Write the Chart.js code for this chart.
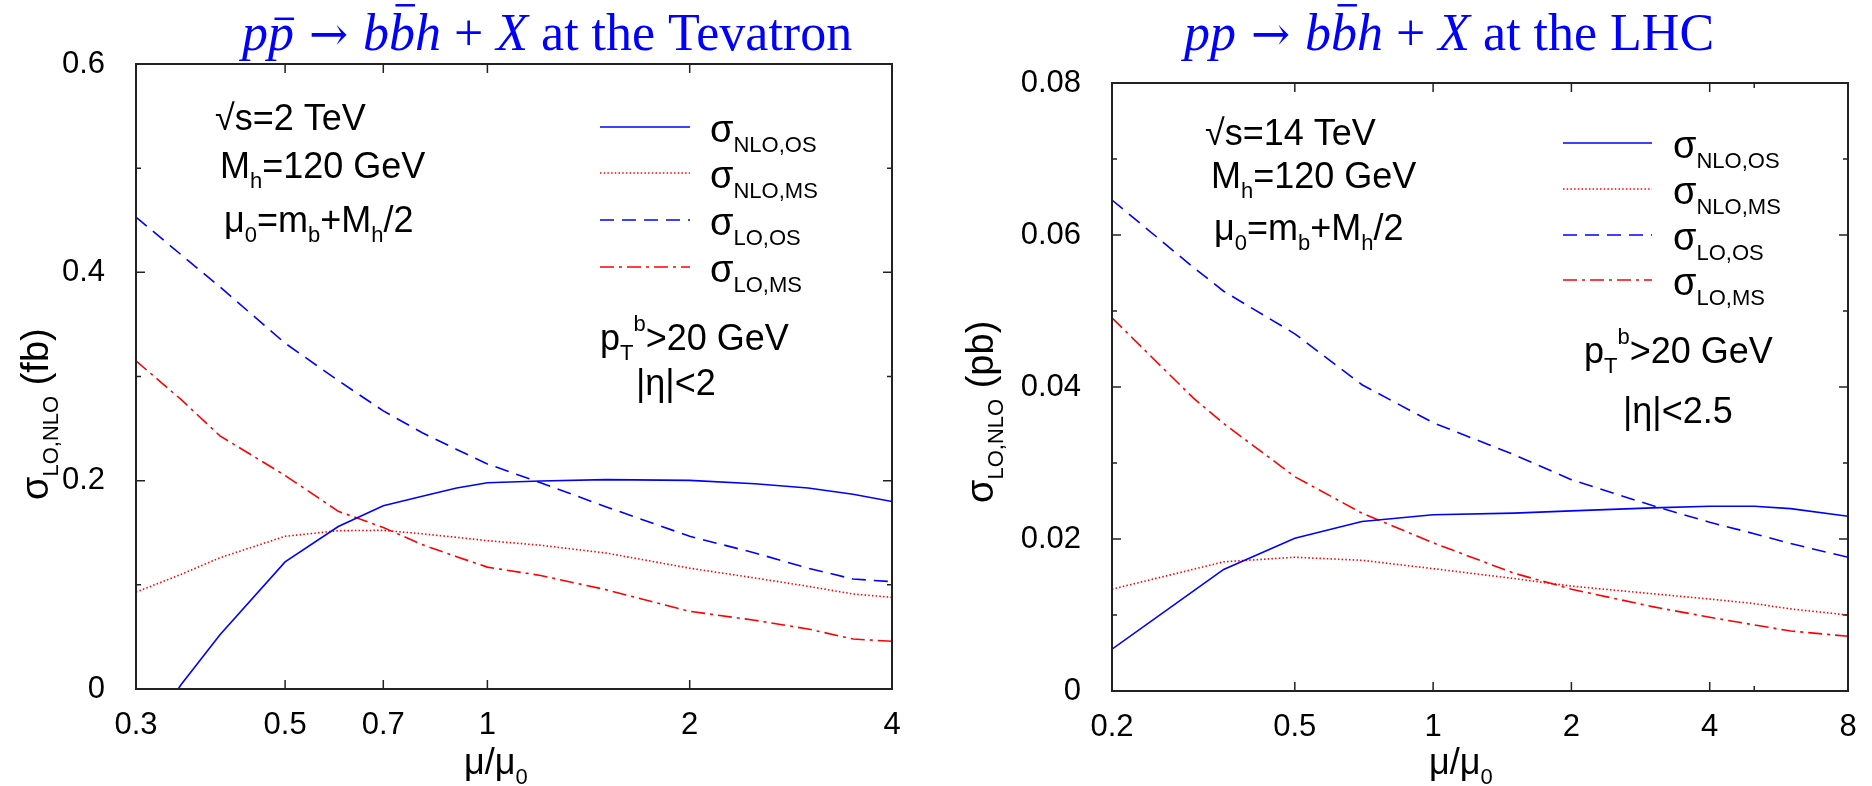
<!DOCTYPE html>
<html>
<head>
<meta charset="utf-8">
<script src="https://cdn.jsdelivr.net/npm/chart.js@4.4.1/dist/chart.umd.min.js"></script>
<style>
  body { margin: 0; background: #fff; }
  #wrap { position: relative; width: 1872px; height: 786px; }
  canvas { position: absolute; top: 0; }
</style>
</head>
<body>
<div id="wrap">
  <canvas id="tev" width="936" height="786" style="left:0"></canvas>
  <canvas id="lhc" width="936" height="786" style="left:936px"></canvas>
</div>
<script>
const BLUE = 'rgb(0, 0, 255)';
const RED = 'rgb(255, 0, 0)';
const SANS = '"Liberation Sans", Arial, sans-serif';
const SERIF = '"Liberation Serif", "Times New Roman", serif';

// Tevatron panel (sigma in fb)
const TEV_MU = [0.3, 0.35, 0.4, 0.5, 0.6, 0.7, 0.8, 0.9, 1.0, 1.2, 1.5, 2, 2.5, 3, 3.5, 4];
const TEV_NLO_OS = [-0.06, 0.004, 0.052, 0.122, 0.156, 0.176, 0.185, 0.193, 0.198, 0.1997, 0.201, 0.2003, 0.197, 0.193, 0.187, 0.180];
const TEV_NLO_MS = [0.093, 0.110, 0.126, 0.1466, 0.152, 0.1523, 0.149, 0.1456, 0.1424, 0.138, 0.1306, 0.116, 0.1066, 0.0986, 0.0912, 0.088];
const TEV_LO_OS = [0.453, 0.417, 0.386, 0.332, 0.296, 0.267, 0.246, 0.230, 0.216, 0.198, 0.175, 0.1466, 0.1306, 0.116, 0.1056, 0.103];
const TEV_LO_MS = [0.315, 0.278, 0.243, 0.205, 0.1706, 0.155, 0.1386, 0.127, 0.117, 0.109, 0.0954, 0.0746, 0.066, 0.0576, 0.048, 0.0458];
const TEV_X_TICKS = [0.3, 0.5, 0.7, 1, 2, 4];
const TEV_Y_TICKS = [0, 0.2, 0.4, 0.6];
const TEV_Y_MINOR = [0.1, 0.3, 0.5];

// LHC panel (sigma in pb)
const LHC_MU = [0.2, 0.3, 0.35, 0.5, 0.7, 1, 1.5, 2, 3, 4, 5, 6, 8];
const LHC_NLO_OS = [0.0055, 0.0131, 0.0160, 0.0201, 0.0223, 0.0232, 0.0234, 0.0237, 0.0241, 0.0243, 0.0243, 0.0240, 0.0230];
const LHC_NLO_MS = [0.0134, 0.0160, 0.0170, 0.0176, 0.0172, 0.0161, 0.0148, 0.0138, 0.0128, 0.0121, 0.0115, 0.0108, 0.0100];
const LHC_LO_OS = [0.0646, 0.0558, 0.0526, 0.0470, 0.0403, 0.0353, 0.0311, 0.0278, 0.0244, 0.0222, 0.0207, 0.0194, 0.0176];
const LHC_LO_MS = [0.0491, 0.0386, 0.0352, 0.0282, 0.0234, 0.0195, 0.0155, 0.0134, 0.0111, 0.0097, 0.0087, 0.0079, 0.0072];
const LHC_X_TICKS = [0.2, 0.5, 1, 2, 4, 8];
const LHC_X_MINOR = [5];
const LHC_Y_TICKS = [0, 0.02, 0.04, 0.06, 0.08];
const LHC_Y_MINOR = [0.01, 0.03, 0.05, 0.07];

const SERIES_LABELS = ['NLO,OS', 'NLO,MS', 'LO,OS', 'LO,MS'];

// draws a run of text pieces: ['txt', kind], kind = '' | 'sub' | 'sup' | 'big'
function drawRich(ctx, x, y, parts, size) {
  for (const [txt, kind] of parts) {
    let s = size, dy = 0;
    if (kind === 'sub') { s = 22; dy = 10; }
    if (kind === 'sup') { s = 22; dy = -19; }
    if (kind === 'big') { s = size + 4; }
    ctx.font = `${s}px ${SANS}`;
    ctx.fillText(txt, x, y + dy);
    x += ctx.measureText(txt).width;
  }
  return x;
}

// title: 'i' italic, 'ib' italic with bar, 'a' arrow, '' roman
function drawTitle(ctx, x, y, parts, size) {
  ctx.fillStyle = BLUE;
  ctx.strokeStyle = BLUE;
  for (const [txt, kind] of parts) {
    if (kind === 'a') ctx.font = `${size * 0.9}px "DejaVu Serif", serif`;
    else ctx.font = (kind ? 'italic ' : '') + `${size}px ${SERIF}`;
    ctx.fillText(txt, x, y);
    let w = ctx.measureText(txt).width;
    if (kind === 'ib') {
      let by = y - size * (txt === 'b' ? 0.86 : 0.6);
      ctx.lineWidth = 2.5;
      ctx.beginPath();
      ctx.moveTo(x + w * 0.25, by);
      ctx.lineTo(x + w * 1.0, by);
      ctx.stroke();
    }
    x += w;
  }
}

const framePlugin = {
  id: 'frame',
  afterDatasetsDraw(chart, args, opts) {
    const {ctx, chartArea: a} = chart;
    const sx = chart.scales.x, sy = chart.scales.y;
    ctx.save();
    ctx.strokeStyle = '#222';
    ctx.lineWidth = 1.5;
    ctx.beginPath();
    const xt = (list, len) => {
      for (const v of list) {
        let px = sx.getPixelForValue(v);
        ctx.moveTo(px, a.bottom); ctx.lineTo(px, a.bottom - len);
        ctx.moveTo(px, a.top); ctx.lineTo(px, a.top + len);
      }
    };
    const yt = (list, len) => {
      for (const v of list) {
        let py = sy.getPixelForValue(v);
        ctx.moveTo(a.left, py); ctx.lineTo(a.left + len, py);
        ctx.moveTo(a.right, py); ctx.lineTo(a.right - len, py);
      }
    };
    xt(opts.xTicks, 9);
    xt(opts.xMinor, 5);
    yt(opts.yTicks, 9);
    yt(opts.yMinor, 5);
    ctx.stroke();
    ctx.lineWidth = 2;
    ctx.strokeRect(a.left, a.top, a.right - a.left, a.bottom - a.top);
    ctx.restore();
  },
  afterDraw(chart, args, opts) {
    const ctx = chart.ctx;
    ctx.save();
    ctx.textBaseline = 'alphabetic';
    ctx.textAlign = 'left';
    drawTitle(ctx, opts.title.x, opts.title.y, opts.title.parts, 52);

    ctx.fillStyle = '#000';
    for (const t of opts.texts) {
      if (t.rot) {
        ctx.save();
        ctx.translate(t.x, t.y);
        ctx.rotate(-Math.PI / 2);
        drawRich(ctx, 0, 0, t.parts, t.size);
        ctx.restore();
      } else {
        drawRich(ctx, t.x, t.y, t.parts, t.size);
      }
    }

    // legend
    const lg = opts.legend;
    chart.data.datasets.forEach((d, i) => {
      let ly = lg.ys[i];
      ctx.strokeStyle = d.borderColor;
      ctx.lineWidth = d.borderWidth;
      ctx.setLineDash(d.borderDash);
      ctx.beginPath();
      ctx.moveTo(lg.x0, ly); ctx.lineTo(lg.x1, ly);
      ctx.stroke();
      ctx.setLineDash([]);
      ctx.fillStyle = '#000';
      drawRich(ctx, lg.tx, ly + 15, [['σ', 'big'], [d.label, 'sub']], 34);
    });
    ctx.restore();
  }
};

function makePanel(canvasId, p) {
  const series = [p.nloOs, p.nloMs, p.loOs, p.loMs];
  const colors = [BLUE, RED, BLUE, RED];
  const dashes = [[], [1.5, 2.2], [14, 8], [14, 5, 3, 5]];
  const datasets = series.map((vals, i) => ({
    label: SERIES_LABELS[i],
    data: p.mu.map((m, k) => ({x: m, y: vals[k]})),
    borderColor: colors[i],
    borderWidth: 1.6,
    borderDash: dashes[i],
    pointRadius: 0,
    tension: 0,
    fill: false
  }));
  const tickFont = {family: SANS, size: 31};

  return new Chart(document.getElementById(canvasId), {
    type: 'line',
    data: {datasets},
    options: {
      responsive: false,
      animation: false,
      events: [],
      layout: {padding: p.pad},
      plugins: {legend: {display: false}, tooltip: {enabled: false}, frame: p},
      scales: {
        x: {
          type: 'logarithmic',
          min: p.xTicks[0],
          max: p.xTicks[p.xTicks.length - 1],
          grid: {display: false},
          border: {display: false},
          afterBuildTicks: (s) => { s.ticks = p.xTicks.map(v => ({value: v})); },
          afterFit: (s) => { s.height = p.xAxisH; },
          ticks: {font: tickFont, color: '#000', padding: 10, maxRotation: 0, autoSkip: false,
                  callback: (v) => String(v)}
        },
        y: {
          type: 'linear',
          min: 0,
          max: p.yTicks[p.yTicks.length - 1],
          grid: {display: false},
          border: {display: false},
          afterBuildTicks: (s) => { s.ticks = p.yTicks.map(v => ({value: v})); },
          afterFit: (s) => { s.width = p.yAxisW; },
          ticks: {font: tickFont, color: '#000', padding: 23, autoSkip: false,
                  callback: (v) => String(v)}
        }
      }
    },
    plugins: [framePlugin]
  });
}

makePanel('tev', {
  mu: TEV_MU, nloOs: TEV_NLO_OS, nloMs: TEV_NLO_MS, loOs: TEV_LO_OS, loMs: TEV_LO_MS,
  xTicks: TEV_X_TICKS, xMinor: [], yTicks: TEV_Y_TICKS, yMinor: TEV_Y_MINOR,
  pad: {top: 64, right: 44, left: 0, bottom: 0},
  xAxisH: 97, yAxisW: 136,
  title: {x: 242, y: 50, parts: [['p', 'i'], ['p', 'ib'], [' \u2192 ', 'a'], ['b', 'i'], ['b', 'ib'], ['h', 'i'], [' + ', ''], ['X', 'i'], [' at the Tevatron', '']]},
  legend: {x0: 600, x1: 690, tx: 710, ys: [127, 173, 220, 267]},
  texts: [
    {x: 215, y: 130, size: 36, parts: [['\u221as=2 TeV', '']]},
    {x: 220, y: 178, size: 36, parts: [['M', ''], ['h', 'sub'], ['=120 GeV', '']]},
    {x: 224, y: 232, size: 36, parts: [['\u03bc', ''], ['0', 'sub'], ['=m', ''], ['b', 'sub'], ['+M', ''], ['h', 'sub'], ['/2', '']]},
    {x: 600, y: 350, size: 36, parts: [['p', ''], ['T', 'sub'], ['b', 'sup'], ['>20 GeV', '']]},
    {x: 636, y: 395, size: 36, parts: [['|\u03b7|<2', '']]},
    {x: 464, y: 774, size: 36, parts: [['\u03bc/\u03bc', ''], ['0', 'sub']]},
    {x: 48, y: 500, size: 34, rot: true, parts: [['\u03c3', 'big'], ['LO,NLO', 'sub'], [' (fb)', 'big']]}
  ]
});

makePanel('lhc', {
  mu: LHC_MU, nloOs: LHC_NLO_OS, nloMs: LHC_NLO_MS, loOs: LHC_LO_OS, loMs: LHC_LO_MS,
  xTicks: LHC_X_TICKS, xMinor: LHC_X_MINOR, yTicks: LHC_Y_TICKS, yMinor: LHC_Y_MINOR,
  pad: {top: 83, right: 24, left: 0, bottom: 0},
  xAxisH: 95, yAxisW: 176,
  title: {x: 248, y: 50, parts: [['pp', 'i'], [' \u2192 ', 'a'], ['b', 'i'], ['b', 'ib'], ['h', 'i'], [' + ', ''], ['X', 'i'], [' at the LHC', '']]},
  legend: {x0: 627, x1: 716, tx: 737, ys: [143, 189, 235, 280]},
  texts: [
    {x: 269, y: 145, size: 36, parts: [['\u221as=14 TeV', '']]},
    {x: 275, y: 188, size: 36, parts: [['M', ''], ['h', 'sub'], ['=120 GeV', '']]},
    {x: 278, y: 240, size: 36, parts: [['\u03bc', ''], ['0', 'sub'], ['=m', ''], ['b', 'sub'], ['+M', ''], ['h', 'sub'], ['/2', '']]},
    {x: 648, y: 363, size: 36, parts: [['p', ''], ['T', 'sub'], ['b', 'sup'], ['>20 GeV', '']]},
    {x: 687, y: 423, size: 36, parts: [['|\u03b7|<2.5', '']]},
    {x: 493, y: 774, size: 36, parts: [['\u03bc/\u03bc', ''], ['0', 'sub']]},
    {x: 57, y: 503, size: 34, rot: true, parts: [['\u03c3', 'big'], ['LO,NLO', 'sub'], [' (pb)', 'big']]}
  ]
});
</script>
</body>
</html>
